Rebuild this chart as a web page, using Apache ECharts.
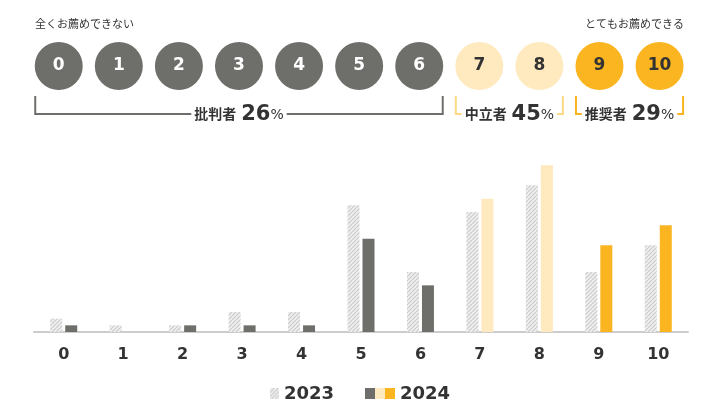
<!DOCTYPE html>
<html>
<head>
<meta charset="utf-8">
<script src="https://cdn.jsdelivr.net/npm/echarts@6/dist/echarts.min.js"></script>
<style>
html,body{margin:0;padding:0;background:#fff;}
#chart{width:710px;height:418px;}
</style>
</head>
<body>
<div id="chart"></div>
<script>
// スコアとシェア(%)
var scores = ['0','1','2','3','4','5','6','7','8','9','10'];
var share2023 = [2, 1, 1, 3, 3, 19, 9, 18, 22, 9, 13];
var share2024 = [1, 0, 1, 1, 1, 14, 7, 20, 25, 13, 16];
var scoreGroup = [0, 0, 0, 0, 0, 0, 0, 1, 1, 2, 2];

// 批判者 / 中立者 / 推奨者
var groupNames = ['批判者', '中立者', '推奨者'];
var groupShares = [26, 45, 29];
var groupFirst = [0, 7, 9];
var groupLast = [6, 8, 10];

var seriesNames = ['2023', '2024'];
var scaleLow = '全くお薦めできない';
var scaleHigh = 'とてもお薦めできる';

var fill = ['#6e6f6b', '#ffe9bf', '#fab520'];
var bracketColor = ['#6e6f6b', '#fdd984', '#f9b520'];
var numColor = ['#ffffff', '#333333', '#333333'];
var FONT = '"DejaVu Sans", "Noto Sans CJK JP", sans-serif';

function makeHatch(w, h) {
	var c = document.createElement('canvas');
	c.width = w; c.height = h;
	var ctx = c.getContext('2d');
	ctx.fillStyle = '#efefef';
	ctx.fillRect(0, 0, w, h);
	ctx.strokeStyle = '#cbcbcb';
	ctx.lineWidth = 1.2;
	ctx.beginPath();
	for (var k = -h; k < w + h; k += 4) {
		ctx.moveTo(k, h);
		ctx.lineTo(k + h, 0);
	}
	ctx.stroke();
	return c;
}

function makeLegend2024() {
	var c = document.createElement('canvas');
	c.width = 30; c.height = 11;
	var ctx = c.getContext('2d');
	for (var i = 0; i < 3; i++) {
		ctx.fillStyle = fill[i];
		ctx.fillRect(i * 10, 0, 10, 11);
	}
	return c.toDataURL();
}

var hatch = makeHatch(4, 4);
var hatchIcon = makeHatch(9, 11).toDataURL();

var legendText = {fontSize: 18, fontWeight: 'bold', color: '#333', fontFamily: FONT};

var myChart = echarts.init(document.getElementById('chart'));
myChart.setOption({
	animation: false,
	textStyle: {fontFamily: FONT},
	legend: [
		{
			data: [{name: seriesNames[0], icon: 'image://' + hatchIcon}],
			left: 265, top: 380,
			itemWidth: 9, itemHeight: 11,
			selectedMode: false,
			textStyle: legendText
		},
		{
			data: [{name: seriesNames[1], icon: 'image://' + makeLegend2024()}],
			left: 360, top: 380,
			itemWidth: 30, itemHeight: 11,
			selectedMode: false,
			textStyle: legendText
		}
	],
	grid: [
		{left: 34, right: 22, top: 132, bottom: 86},
		{left: 28.7, right: 20.4, top: 42, height: 48}
	],
	xAxis: [
		{
			type: 'category',
			gridIndex: 0,
			data: scores,
			axisTick: {show: false},
			axisLine: {lineStyle: {color: '#cccccc', width: 2}},
			axisLabel: {fontSize: 16, fontWeight: 'bold', color: '#333', margin: 15, fontFamily: FONT}
		},
		{
			type: 'category',
			gridIndex: 1,
			data: scores,
			show: false
		}
	],
	yAxis: [
		{type: 'value', gridIndex: 0, min: 0, max: 30, show: false, splitLine: {show: false}},
		{type: 'value', gridIndex: 1, min: -1, max: 1, show: false, splitLine: {show: false}}
	],
	series: [
		{
			name: seriesNames[0],
			type: 'bar',
			barWidth: 12,
			barGap: '25%',
			itemStyle: {color: {image: hatch, repeat: 'repeat'}},
			data: share2023
		},
		{
			name: seriesNames[1],
			type: 'bar',
			barWidth: 12,
			barGap: '25%',
			itemStyle: {color: fill[0]},
			data: share2024.map(function (v, i) {
				return {value: v, itemStyle: {color: fill[scoreGroup[i]]}};
			})
		},
		{
			type: 'scatter',
			xAxisIndex: 1,
			yAxisIndex: 1,
			symbolSize: 48,
			silent: true,
			data: scores.map(function (s, i) {
				var g = scoreGroup[i];
				return {
					value: [i, 0],
					itemStyle: {color: fill[g], opacity: 1},
					label: {color: numColor[g]}
				};
			}),
			label: {
				show: true,
				position: 'inside',
				fontSize: 17,
				fontWeight: 'bold',
				fontFamily: FONT,
				formatter: function (p) { return scores[p.dataIndex]; }
			}
		}
	]
});

// 括弧とラベル(円の位置から計算)
var r = 23.5;
var graphics = [
	{type: 'text', left: 35, top: 20, style: {text: scaleLow, fontSize: 11, fill: '#333', fontFamily: FONT}},
	{type: 'text', right: 26, top: 20, style: {text: scaleHigh, fontSize: 11, fill: '#333', fontFamily: FONT}}
];
for (var g = 0; g < groupNames.length; g++) {
	var p0 = myChart.convertToPixel({seriesIndex: 2}, [groupFirst[g], 0]);
	var p1 = myChart.convertToPixel({seriesIndex: 2}, [groupLast[g], 0]);
	var x0 = p0[0] - r, x1 = p1[0] + r;
	var yTop = p0[1] + 30, yBot = p0[1] + 48;
	graphics.push({
		type: 'polyline',
		shape: {points: [[x0, yTop], [x0, yBot], [x1, yBot], [x1, yTop]]},
		style: {stroke: bracketColor[g], lineWidth: 2, fill: null}
	});
	graphics.push({
		type: 'text',
		x: (x0 + x1) / 2,
		y: yBot + 1,
		style: {
			text: '{n|' + groupNames[g] + ' }{p|' + groupShares[g] + '}{u|%}',
			align: 'center',
			verticalAlign: 'middle',
			backgroundColor: '#fff',
			padding: [0, 3],
			rich: {
				n: {fontSize: 14, fontWeight: 'bold', fill: '#333', fontFamily: FONT},
				p: {fontSize: 21, fontWeight: 'bold', fill: '#333', fontFamily: FONT},
				u: {fontSize: 14, fill: '#333', fontFamily: FONT}
			}
		}
	});
}
myChart.setOption({graphic: graphics});
</script>
</body>
</html>
